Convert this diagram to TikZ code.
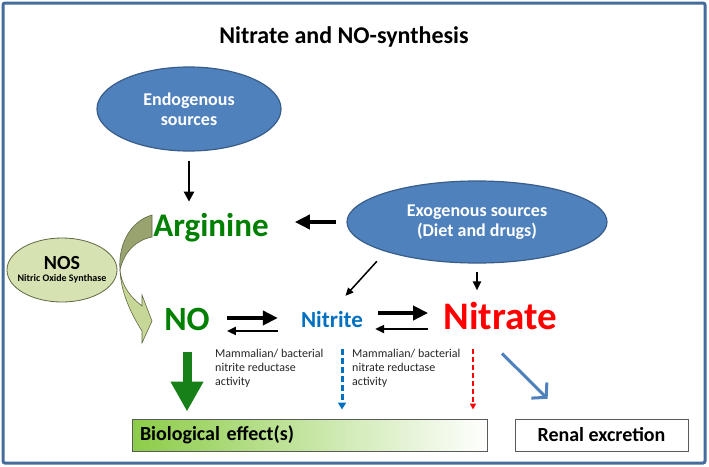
\documentclass[tikz,border=0pt]{standalone}
\usepackage{fontspec}
\setmainfont{Carlito}
\usetikzlibrary{shapes.geometric,arrows.meta}
\definecolor{framecol}{RGB}{70,108,158}
\definecolor{ellfill}{RGB}{79,129,189}
\definecolor{ellline}{RGB}{56,93,138}
\definecolor{nosfill}{RGB}{214,226,178}
\definecolor{nosline}{RGB}{95,105,65}
\definecolor{curvdark}{RGB}{152,163,112}
\definecolor{curvlight}{RGB}{198,215,152}
\definecolor{argreen}{RGB}{0,128,0}
\definecolor{arrgreen}{RGB}{24,128,24}
\definecolor{nitblue}{RGB}{0,112,192}
\definecolor{natred}{RGB}{255,0,0}
\definecolor{biogreen}{RGB}{140,204,72}
\definecolor{boxline}{RGB}{90,90,90}

\begin{document}
\begin{tikzpicture}[x=1pt,y=-1pt,
  src/.style={ellipse,draw=ellline,fill=ellfill,line width=1.2pt,text=white,align=center,inner sep=0pt,font=\bfseries\fontsize{18}{20}\selectfont},
  chem/.style={anchor=base,inner sep=0pt,font=\bfseries\fontsize{#1}{#1}\selectfont},
  note/.style={anchor=north west,align=left,inner sep=0pt,text=black!85,font=\fontsize{12}{14}\selectfont},
  resbox/.style={draw=boxline,line width=1pt,minimum height=32pt,font=\bfseries\fontsize{20}{22}\selectfont},
  fatarrow/.style={line width=4pt,-{Triangle[length=15pt,width=14pt]}},
  midarrow/.style={line width=2.5pt,-{Triangle[length=10pt,width=10pt]}},
  thinarrow/.style={line width=1.5pt,-{Triangle[length=8pt,width=7pt]}},
  thinback/.style={line width=2pt,-{Triangle[length=9pt,width=8pt]}},
  blockarrow/.style={arrgreen,line width=9pt,-{Triangle[length=30pt,width=31pt]}},
  nirarrow/.style={nitblue,line width=3pt,dash pattern=on 6pt off 3pt,-{Triangle[length=7pt,width=8pt]}},
  nararrow/.style={natred,line width=1.8pt,dash pattern=on 5pt off 3pt,-{Triangle[length=6pt,width=6pt]}},
  renalarrow/.style={ellfill,line width=3pt,-{Straight Barb[length=10pt,width=22pt]}}]
  \useasboundingbox (0,0) rectangle (709,466);
  \fill[white] (0,0) rectangle (709,466);
  \draw[framecol,line width=3pt,rounded corners=2pt] (3,3) rectangle (705,463);

  \node[anchor=base,font=\bfseries\fontsize{24}{28}\selectfont] (title) at (344,43) {Nitrate and NO-synthesis};

  \node[src,minimum width=184pt,minimum height=84pt] (endo) at (189,109) {Endogenous\\sources};
  \node[src,minimum width=260pt,minimum height=82pt] (exo) at (477,222) {Exogenous sources\\(Diet and drugs)};
  \node[ellipse,draw=nosline,fill=nosfill,line width=0.8pt,minimum width=110pt,minimum height=64pt,inner xsep=-7pt,inner ysep=0pt,align=center]
    (nos) at (62,270) {\bfseries\fontsize{20}{18}\selectfont NOS\\\bfseries\fontsize{10}{14}\selectfont Nitric Oxide Synthase};

  \node[chem=33,text=argreen] (arg) at (211,236) {Arginine};
  \node[chem=34,text=argreen] (no) at (187,330) {NO};
  \node[chem=23,text=nitblue] (nitrite) at (332,327) {Nitrite};
  \node[chem=39,text=natred] (nitrate) at (500,329) {Nitrate};

  \node[note] (nirnote) at (215,349) {Mammalian/ bacterial\\nitrite reductase\\activity};
  \node[note] (narnote) at (352,349) {Mammalian/ bacterial\\nitrate reductase\\activity};

  \node[resbox,left color=biogreen,right color=white,minimum width=355pt,text width=339pt,inner xsep=8pt,align=left] (bio) at (309.5,435) {Biological effect(s)};
  \node[resbox,fill=white,minimum width=173pt] (renal) at (601.5,435) {Renal excretion};

  \fill[curvdark,draw=nosline,line width=0.6pt] (152,215) .. controls (128,222) and (118,248) .. (120,270)
    .. controls (124,252) and (136,240) .. (152,237) -- cycle;
  \fill[curvlight,draw=nosline,line width=0.6pt] (120,270) .. controls (121,292) and (130,312) .. (142,331)
    -- (142,343) -- (152,321) -- (142,295) -- (142,306) .. controls (132,298) and (122,288) .. (120,270) -- cycle;

  \draw[midarrow,shorten <=9pt,shorten >=11pt] (endo.south) -- (endo.south |- arg.north);
  \draw[fatarrow,shorten <=10pt,shorten >=26pt] (exo.west) -- (exo.west -| arg.east);
  \draw[thinarrow,shorten <=13pt,shorten >=20pt] (exo.198) -- (nitrite.north);
  \draw[thinback,shorten <=8pt,shorten >=11pt] (exo.south) -- (exo.south |- nitrate.north);

  \draw[fatarrow,shorten <=17pt,shorten >=23pt] ([yshift=1pt]no.east) -- ([yshift=1pt]no.east -| nitrite.west);
  \draw[thinback,shorten <=23pt,shorten >=17pt] ([yshift=-12pt]no.east -| nitrite.west) -- ([yshift=-12pt]no.east);
  \draw[fatarrow,shorten <=15pt,shorten >=15pt] ([yshift=6pt]nitrite.east) -- ([yshift=6pt]nitrite.east -| nitrate.west);
  \draw[thinback,shorten <=15pt,shorten >=12pt] ([yshift=-10pt]nitrite.east -| nitrate.west) -- ([yshift=-10pt]nitrite.east);

  \draw[blockarrow,shorten <=22pt,shorten >=7pt] (no.south) -- (no.south |- bio.north);
  \draw[nirarrow,shorten <=22pt,shorten >=9pt] ([xshift=10pt]nitrite.south) -- ([xshift=10pt]nitrite.south |- bio.north);
  \draw[nararrow,shorten <=20pt,shorten >=9pt] ([xshift=-27pt]nitrate.south) -- ([xshift=-27pt]nitrate.south |- bio.north);
  \draw[renalarrow,shorten >=28pt] ([xshift=2pt,yshift=-24pt]nitrate.south) -- ([xshift=53pt]renal.north west);
\end{tikzpicture}
\end{document}
